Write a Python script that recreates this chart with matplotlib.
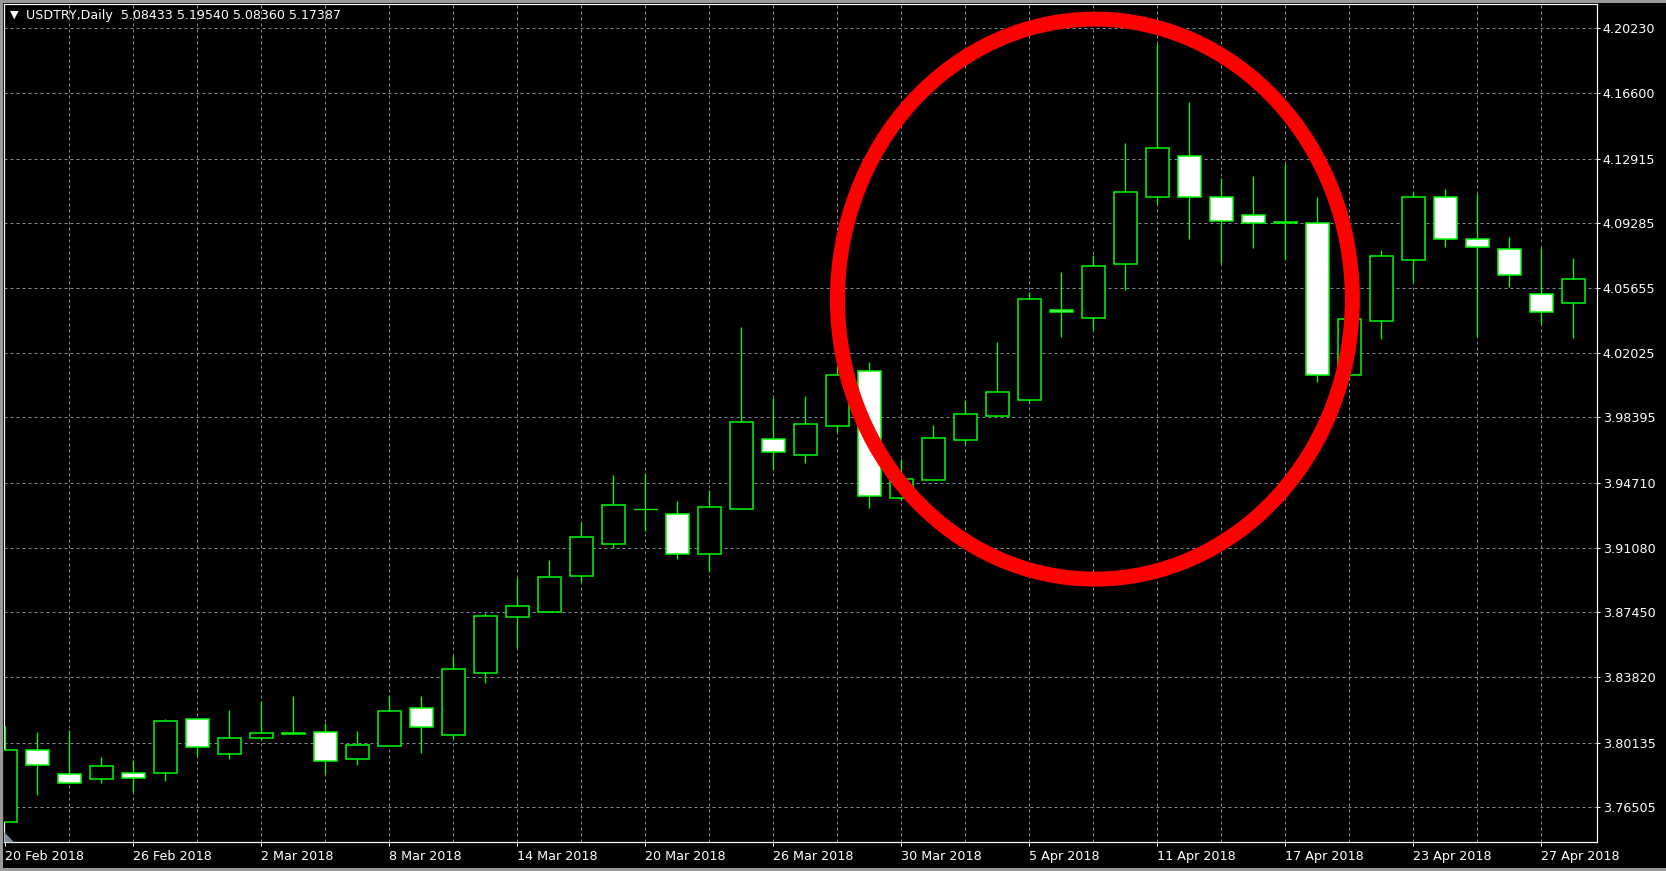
import matplotlib
matplotlib.use("Agg")
import matplotlib.pyplot as plt
from matplotlib.patches import Rectangle, Ellipse, Polygon
import pandas as pd

# ---------------- data ----------------
header_text = "USDTRY,Daily  5.08433 5.19540 5.08360 5.17387"
dates = pd.bdate_range("2018-02-20", "2018-04-30")

opens = [3.75664, 3.79706, 3.78359, 3.78078, 3.78415, 3.78415, 3.81446, 3.79481, 3.80379, 3.80655,
         3.80716, 3.79200, 3.79930, 3.82063, 3.80548, 3.84027, 3.87171, 3.87451, 3.89472, 3.91268,
         3.93232, 3.92952, 3.90707, 3.93232, 3.97161, 3.96263, 3.97936, 4.00978, 3.93850, 3.94860,
         3.97105, 3.98452, 3.99350, 4.04419, 4.03953, 4.06984, 4.10744, 4.13046, 4.10744, 4.09734,
         4.09350, 4.09285, 4.00754, 4.03784, 4.07208, 4.10744, 4.08387, 4.07826, 4.05300, 4.04795]
highs = [3.81070, 3.80733, 3.80845, 3.79330, 3.79144, 3.81446, 3.81502, 3.81968, 3.82473, 3.82753,
         3.81238, 3.80789, 3.82809, 3.82753, 3.84982, 3.87395, 3.89360, 3.90370, 3.92536, 3.95141,
         3.95253, 3.93681, 3.94299, 4.03465, 3.99463, 3.99592, 4.01276, 4.01500, 3.96056, 3.97964,
         3.99350, 4.02623, 4.05412, 4.06552, 4.07489, 4.13792, 4.19349, 4.16093, 4.11811, 4.11940,
         4.12613, 4.10761, 4.04026, 4.07786, 4.11059, 4.11210, 4.10930, 4.08499, 4.07882, 4.07337]
lows = [3.75664, 3.77214, 3.77853, 3.77887, 3.77348, 3.77999, 3.79369, 3.79217, 3.80284, 3.80625,
        3.78375, 3.78897, 3.79930, 3.79537, 3.80379, 3.83500, 3.85431, 3.87451, 3.89135, 3.91077,
        3.92031, 3.90460, 3.89786, 3.93232, 3.95455, 3.95848, 3.97554, 3.93322, 3.93754, 3.94860,
        3.96881, 3.98452, 3.99238, 4.02920, 4.03279, 4.05558, 4.10351, 4.08421, 4.07040, 4.07916,
        4.07264, 4.00361, 4.00490, 4.02808, 4.05974, 4.07938, 4.02920, 4.05727, 4.03616, 4.02864]
closes = [3.79706, 3.78864, 3.77853, 3.78808, 3.78134, 3.81333, 3.79874, 3.80379, 3.80660, 3.80625,
          3.79088, 3.79986, 3.81895, 3.80997, 3.84252, 3.87227, 3.87833, 3.89416, 3.91661, 3.93457,
          3.93232, 3.90707, 3.93345, 3.98116, 3.96432, 3.98003, 4.00754, 3.93962, 3.94916, 3.97218,
          3.98565, 3.99799, 4.05019, 4.04306, 4.06872, 4.11025, 4.13495, 4.10744, 4.09397, 4.09285,
          4.09330, 4.00754, 4.03897, 4.07433, 4.10744, 4.08387, 4.07938, 4.06366, 4.04290, 4.06159]

price_ticks = [4.20230, 4.16600, 4.12915, 4.09285, 4.05655, 4.02025, 3.98395,
               3.94710, 3.91080, 3.87450, 3.83820, 3.80135, 3.76505]
price_tick_labels = ["4.20230", "4.16600", "4.12915", "4.09285", "4.05655", "4.02025", "3.98395",
                     "3.94710", "3.91080", "3.87450", "3.83820", "3.80135", "3.76505"]

# highlight circle (annotation), in bar index / price units
circle_center = (34.05, 4.0503)
circle_size = (16.09, 0.3143)

# ---------------- style ----------------
W, H = 1666, 871
DPI = 100
PX = 72.0 / DPI
GREEN = "#00FF00"
GRID = "#7f8c9a"

fig = plt.figure(figsize=(W / DPI, H / DPI), dpi=DPI, facecolor="black")
ax = fig.add_axes([4.3 / W, (H - 842.3) / H, (1596.7 - 4.3) / W, (842.3 - 4.0) / H])
ax.set_facecolor("black")

n = len(opens)
body_w = 0.72
for i in range(n):
    o, h, l, c = opens[i], highs[i], lows[i], closes[i]
    ax.plot([i, i], [l, h], color=GREEN, lw=PX * 1.3, zorder=3, solid_capstyle="butt")
    if abs(o - c) < 1e-9:
        ax.plot([i - body_w / 2, i + body_w / 2], [o, o], color=GREEN, lw=PX * 1.3, zorder=4)
    else:
        face = "black" if c > o else "white"
        ax.add_patch(Rectangle((i - body_w / 2, min(o, c)), body_w, abs(c - o),
                               facecolor=face, edgecolor=GREEN, lw=PX * 1.5, zorder=4))

ax.add_patch(Ellipse(circle_center, circle_size[0], circle_size[1], facecolor="none",
                     edgecolor="#FF0000", lw=PX * 15, zorder=6))

ax.set_xlim(-1 / 32, 1591.4 / 32)
ax.set_ylim(3.74542, 4.21594)

# x ticks / grid
label_idx = list(range(0, n, 4))
ax.set_xticks(label_idx)
ax.set_xticklabels([f"{dates[k].day} {dates[k].strftime('%b %Y')}" for k in label_idx],
                   ha="left")
for k in range(2, n, 2):
    ax.axvline(k, color=GRID, lw=PX, ls=(0, (3, 3)), zorder=1)
for p in price_ticks:
    ax.axhline(p, color=GRID, lw=PX, ls=(0, (3, 3)), zorder=1)

ax.yaxis.tick_right()
ax.set_yticks(price_ticks)
ax.set_yticklabels(price_tick_labels)
ax.tick_params(axis="y", colors="white", length=3 * PX, width=PX, pad=3 * PX, labelsize=9.2)
ax.tick_params(axis="x", colors="white", length=4 * PX, width=PX, pad=2.4, labelsize=9.2)
for lab in ax.get_yticklabels() + ax.get_xticklabels():
    lab.set_color("white")
for sp in ax.spines.values():
    sp.set_color("white")
    sp.set_linewidth(PX * 1.2)

# shift marker at bottom-left
ax.add_patch(Polygon([[4.3 / W, (H - 842.3) / H], [14 / W, (H - 842.3) / H], [4.3 / W, (H - 832) / H]],
                     closed=True, transform=fig.transFigure, facecolor=GRID, edgecolor="none",
                     zorder=7, clip_on=False))

# header
fig.text(14 / W, 1 - 15.0 / H, "▼", color="white", fontsize=8, ha="center", va="center")
fig.text(26 / W, 1 - 15.5 / H, header_text, color="white", fontsize=9.1, ha="left", va="center")

# window frame
gray = "#9a9a9a"
fig.add_artist(Rectangle((0, 1 - 2.7 / H), 1, 2.7 / H, transform=fig.transFigure, color=gray, lw=0))
fig.add_artist(Rectangle((0, 0), 2.7 / W, 1, transform=fig.transFigure, color=gray, lw=0))
fig.add_artist(Rectangle((0, 0), 1, 3.3 / H, transform=fig.transFigure, color=gray, lw=0))

fig.savefig("out.png", dpi=DPI, facecolor="black")
